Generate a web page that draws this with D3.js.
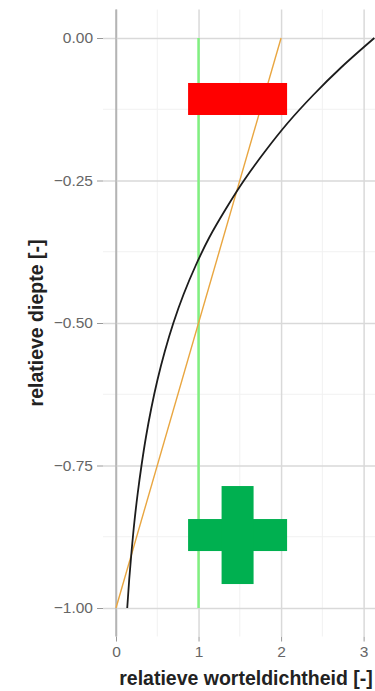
<!DOCTYPE html>
<html>
<head>
<meta charset="utf-8">
<script src="https://cdn.jsdelivr.net/npm/d3@7"></script>
<style>
    html, body { margin: 0; padding: 0; background: #fff; }
    #chart { width: 375px; height: 691px; overflow: hidden; }
    text { font-family: "Liberation Sans", Arial, sans-serif; }
</style>
</head>
<body>
<div id="chart"></div>
<script>
///// DATA //////
// relatieve diepte (0 = maaiveld, -1 = onderkant wortelzone)
let diepte = [0, -0.05, -0.1, -0.15, -0.2, -0.25, -0.3, -0.35, -0.4, -0.45, -0.5,
    -0.55, -0.6, -0.65, -0.7, -0.75, -0.8, -0.85, -0.9, -0.95, -1];
// zwarte curve (afnemend met diepte)
let dichtheidCurve = [3.13, 2.74, 2.39, 2.075, 1.80, 1.55, 1.33, 1.13, 0.963, 0.818, 0.695,
    0.591, 0.502, 0.427, 0.363, 0.309, 0.262, 0.222, 0.189, 0.160, 0.136];
// oranje lijn (lineair) en groene lijn (uniform): begin- en eindpunt
let diepteLijn = [0, -1];
let dichtheidLineair = [2, 0];
let dichtheidUniform = [1, 1];

let xTicks = [0, 1, 2, 3];
let xMinor = [0.5, 1.5, 2.5];
let yTicks = [0, -0.25, -0.5, -0.75, -1];
let yMinor = [-0.125, -0.375, -0.625, -0.875];

// plus / min markering (midden in data-eenheden)
let minTeken = {x: 1.473, y: -0.107};
let plusTeken = {x: 1.473, y: -0.872};

///// GRAFIEK //////
let chartBlock = d3.select('#chart');
let margin = {top: 9.5, right: 0, bottom: 54.5, left: 103};
let width = 286, height = 691 - margin.top - margin.bottom;

let svg = chartBlock.append('svg')
    .attr('width', 375)
    .attr('height', 691);

let chart = svg.append('g')
    .attr('transform', 'translate(' + margin.left + ',' + margin.top + ')');

// schalen met 5% expansie zoals ggplot
let xMax = 3.15;
let x_c = d3.scaleLinear()
    .domain([-0.05 * xMax, xMax * 1.05])
    .range([0, width]);

let y_c = d3.scaleLinear()
    .domain([-1.05, 0.05])
    .range([height, 0]);

// minor grid
chart.append('g').selectAll('line')
    .data(xMinor).enter().append('line')
    .attr('x1', d => x_c(d)).attr('x2', d => x_c(d))
    .attr('y1', 0).attr('y2', height)
    .attr('stroke', '#f1f1f1').attr('stroke-width', 1);

chart.append('g').selectAll('line')
    .data(yMinor).enter().append('line')
    .attr('y1', d => y_c(d)).attr('y2', d => y_c(d))
    .attr('x1', 0).attr('x2', width)
    .attr('stroke', '#f1f1f1').attr('stroke-width', 1);

// X-as met gridlijnen
let x_cAxis = function(g) {
    g.call(d3.axisBottom(x_c).tickValues(xTicks).tickSize(5).tickPadding(4).tickFormat(d => d));
    g.call(function(g) { g.select('.domain').remove(); });
    g.selectAll('.tick line').attr('stroke', '#999');
    g.selectAll('.tick text')
        .attr('fill', '#666')
        .attr('font-size', '15.5px');
    g.selectAll('.tick').append('line')
        .attr('y1', 0).attr('y2', -height)
        .attr('stroke', d => d === 0 ? '#b5b5b5' : '#d9d9d9')
        .attr('stroke-width', 1.5);
};

chart.append('g')
    .attr('transform', 'translate(0,' + height + ')')
    .call(x_cAxis);

// Y-as met gridlijnen
let y_cAxis = function(g) {
    g.call(d3.axisLeft(y_c).tickValues(yTicks).tickSize(6).tickPadding(4).tickFormat(d3.format('.2f')));
    g.call(function(g) { g.select('.domain').remove(); });
    g.selectAll('.tick line').attr('stroke', '#999');
    g.selectAll('.tick text')
        .attr('fill', '#666')
        .attr('font-size', '15.5px');
    g.selectAll('.tick').append('line')
        .attr('x1', 0).attr('x2', width)
        .attr('stroke', '#d9d9d9')
        .attr('stroke-width', 1.5);
};

chart.append('g').call(y_cAxis);

// lijn x = 0 iets donkerder
chart.append('line')
    .attr('x1', x_c(0)).attr('x2', x_c(0))
    .attr('y1', 0).attr('y2', height)
    .attr('stroke', '#b5b5b5').attr('stroke-width', 1.5);

// lijnen
let line = d3.line()
    .x(d => x_c(d[0]))
    .y(d => y_c(d[1]));

chart.append('path')
    .datum(diepteLijn.map((d, i) => [dichtheidUniform[i], d]))
    .attr('d', line)
    .attr('fill', 'none')
    .attr('stroke', '#80f080')
    .attr('stroke-width', 2.5);

chart.append('path')
    .datum(diepteLijn.map((d, i) => [dichtheidLineair[i], d]))
    .attr('d', line)
    .attr('fill', 'none')
    .attr('stroke', '#e9a640')
    .attr('stroke-width', 1.4);

chart.append('path')
    .datum(diepte.map((d, i) => [dichtheidCurve[i], d]))
    .attr('d', line.curve(d3.curveMonotoneY))
    .attr('fill', 'none')
    .attr('stroke', '#1c1c1c')
    .attr('stroke-width', 1.8);

// min en plus
let barW = 99, barH = 32, plusH = 98;
chart.append('rect')
    .attr('x', x_c(minTeken.x) - barW / 2)
    .attr('y', y_c(minTeken.y) - barH / 2)
    .attr('width', barW).attr('height', barH)
    .attr('fill', '#ff0000');

let plus = chart.append('g')
    .attr('transform', 'translate(' + x_c(plusTeken.x) + ',' + y_c(plusTeken.y) + ')')
    .attr('fill', '#00b050');
plus.append('rect')
    .attr('x', -barW / 2).attr('y', -barH / 2)
    .attr('width', barW).attr('height', barH);
plus.append('rect')
    .attr('x', -barH / 2).attr('y', -plusH / 2)
    .attr('width', barH).attr('height', plusH);

// astitels
svg.append('text')
    .attr('x', margin.left + width / 2)
    .attr('y', 685)
    .attr('text-anchor', 'middle')
    .attr('font-size', '19.5px')
    .attr('font-weight', 'bold')
    .attr('fill', '#222')
    .text('relatieve worteldichtheid [-]');

svg.append('text')
    .attr('transform', 'translate(43,' + (margin.top + height / 2) + ') rotate(-90)')
    .attr('text-anchor', 'middle')
    .attr('font-size', '19.5px')
    .attr('font-weight', 'bold')
    .attr('fill', '#222')
    .text('relatieve diepte [-]');
</script>
</body>
</html>
